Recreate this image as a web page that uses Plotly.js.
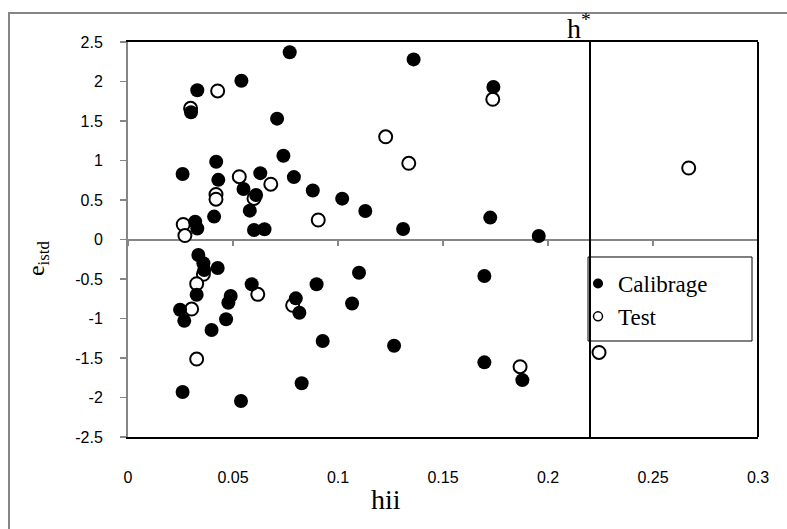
<!DOCTYPE html>
<html>
<head>
<meta charset="utf-8">
<script src="https://cdn.plot.ly/plotly-3.0.1.min.js"></script>
<style>html,body{margin:0;padding:0;background:#fff;}#chart{width:787px;height:529px;}</style>
</head>
<body>
<div id="chart"></div>
<script>
// Calibrage (filled circles)
const calHii = [0.077, 0.054, 0.033, 0.030, 0.071, 0.074, 0.042, 0.026, 0.063, 0.079,
  0.043, 0.088, 0.055, 0.061, 0.058, 0.041, 0.032, 0.033, 0.060, 0.065,
  0.136, 0.174, 0.102, 0.113, 0.131, 0.1725, 0.1956,
  0.0335, 0.0359, 0.0363, 0.0427, 0.0327, 0.0248, 0.0268, 0.0398, 0.0467, 0.0478, 0.0489,
  0.0589, 0.0799, 0.0816, 0.0898, 0.0927, 0.026, 0.0538, 0.0827,
  0.110, 0.1067, 0.1267, 0.1697, 0.1697, 0.1878];
const calE = [2.37, 2.01, 1.89, 1.61, 1.53, 1.06, 0.985, 0.83, 0.84, 0.79,
  0.755, 0.62, 0.64, 0.563, 0.365, 0.29, 0.225, 0.14, 0.12, 0.13,
  2.28, 1.93, 0.517, 0.36, 0.133, 0.277, 0.045,
  -0.196, -0.30, -0.386, -0.36, -0.70, -0.89, -1.03, -1.146, -1.01, -0.80, -0.715,
  -0.567, -0.745, -0.927, -0.567, -1.285, -1.93, -2.044, -1.82,
  -0.42, -0.81, -1.344, -0.462, -1.555, -1.78];
// Test (open circles)
const testHii = [0.0427, 0.0298, 0.053, 0.068, 0.060, 0.0419, 0.0419, 0.0906, 0.0263, 0.0271,
  0.1737, 0.1227, 0.1337, 0.267, 0.2243, 0.0359, 0.0327, 0.0303, 0.0618, 0.0784, 0.0327, 0.1867];
const testE = [1.88, 1.66, 0.795, 0.70, 0.52, 0.57, 0.51, 0.247, 0.19, 0.05,
  1.775, 1.30, 0.965, 0.905, -1.43, -0.44, -0.56, -0.88, -0.694, -0.833, -1.513, -1.61];

const hStar = 0.22;
const xTickVals = [0, 0.05, 0.1, 0.15, 0.2, 0.25, 0.3];
const xTickText = ["0", "0.05", "0.1", "0.15", "0.2", "0.25", "0.3"];
const yTickVals = [-2.5, -2, -1.5, -1, -0.5, 0, 0.5, 1, 1.5, 2, 2.5];
const yTickText = ["-2.5", "-2", "-1.5", "-1", "-0.5", "0", "0.5", "1", "1.5", "2", "2.5"];
const seriesNames = ["Calibrage", "Test"];

const gray = "#868686";
const serif = "Liberation Serif, Times New Roman, serif";
const sans = "Liberation Sans, Arial, sans-serif";

const traces = [
  {x: testHii, y: testE, type: "scatter", mode: "markers", showlegend: false, cliponaxis: false,
   marker: {symbol: "circle", size: 13, color: "#ffffff", line: {color: "#000", width: 2}}},
  {x: calHii, y: calE, type: "scatter", mode: "markers", showlegend: false, cliponaxis: false,
   marker: {symbol: "circle", size: 14, color: "#000", line: {width: 0}}},
  {x: [null], y: [null], type: "scatter", mode: "markers", name: seriesNames[0], legendrank: 1,
   marker: {symbol: "circle", size: 10, color: "#000", line: {width: 0}}},
  {x: [null], y: [null], type: "scatter", mode: "markers", name: seriesNames[1], legendrank: 2,
   marker: {symbol: "circle", size: 9, color: "#fff", line: {color: "#000", width: 1.5}}},
  {x: [], y: [], xaxis: "x2", type: "scatter", mode: "markers", showlegend: false, hoverinfo: "skip"}
];

const layout = {
  width: 787, height: 529,
  margin: {l: 128, r: 29, t: 42, b: 92},
  paper_bgcolor: "#fff", plot_bgcolor: "#fff",
  showlegend: true,
  xaxis: {
    range: [0, 0.3], tickvals: xTickVals, ticktext: xTickText,
    ticks: "", showgrid: false, zeroline: false,
    showline: true, linecolor: "#000", linewidth: 2, mirror: true,
    ticklabelstandoff: 25,
    tickfont: {family: sans, size: 16, color: "#000"}
  },
  xaxis2: {
    range: [0, 0.3], overlaying: "x", anchor: "free", position: 0.5,
    tickvals: xTickVals, ticks: "outside", ticklen: 5, tickwidth: 1.5, tickcolor: gray,
    showticklabels: false, showgrid: false, zeroline: false, showline: false
  },
  yaxis: {
    range: [-2.5, 2.5], tickvals: yTickVals, ticktext: yTickText,
    ticks: "outside", ticklen: 6, tickwidth: 1.5, tickcolor: gray,
    showgrid: false, zeroline: true, zerolinecolor: gray, zerolinewidth: 2,
    showline: true, linecolor: gray, linewidth: 2,
    ticklabelstandoff: 14,
    tickfont: {family: sans, size: 16, color: "#000"}
  },
  legend: {
    x: 0.7143, y: 0.443, xanchor: "left", yanchor: "top",
    bgcolor: "rgba(0,0,0,0)", borderwidth: 0,
    font: {family: serif, size: 23, color: "#000"}
  },
  shapes: [
    {type: "rect", xref: "paper", yref: "paper", x0: -0.1889, x1: 1.2, y0: -0.5, y1: 1.0734,
     line: {color: gray, width: 2}, fillcolor: "rgba(0,0,0,0)", layer: "below"},
    {type: "rect", xref: "paper", yref: "paper", x0: 0.7302, x1: 0.9905, y0: 0.2430, y1: 0.4557,
     line: {color: "#000", width: 1}, fillcolor: "#fff", layer: "above"},
    {type: "line", xref: "x", yref: "paper", x0: hStar, x1: hStar, y0: 0, y1: 1,
     line: {color: "#000", width: 2}, layer: "above"},
    {type: "line", xref: "paper", yref: "paper", x0: 1, x1: 1, y0: 0, y1: 1,
     line: {color: "#000", width: 2}, layer: "above"}
  ],
  annotations: [
    {text: "h<sup>*</sup>", xref: "x", yref: "paper", x: hStar, y: 1, xanchor: "right", yanchor: "bottom",
     xshift: 3, yshift: -4, showarrow: false, font: {family: serif, size: 28, color: "#000"}},
    {text: "hii", xref: "paper", yref: "paper", x: 0.41, y: -0.157, xanchor: "center", yanchor: "middle",
     showarrow: false, font: {family: serif, size: 28, color: "#000"}},
    {text: "e<sub>istd</sub>", xref: "paper", yref: "paper", x: -0.1429, y: 0.453, xanchor: "center", yanchor: "middle",
     textangle: -90, showarrow: false, font: {family: serif, size: 24, color: "#000"}}
  ]
};

Plotly.newPlot("chart", traces, layout, {displayModeBar: false, staticPlot: true});
</script>
</body>
</html>
